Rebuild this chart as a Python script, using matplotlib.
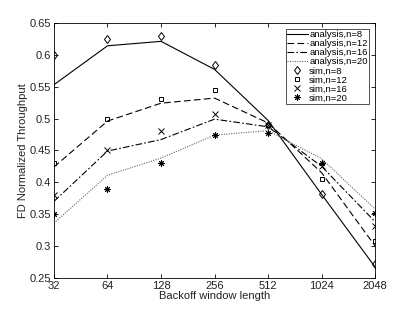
import matplotlib
matplotlib.use("Agg")
import matplotlib.pyplot as plt
from matplotlib.ticker import FixedLocator, FixedFormatter, NullLocator

plt.rcParams['font.family'] = ['Liberation Sans', 'DejaVu Sans']

window = [32, 64, 128, 256, 512, 1024, 2048]
tick_labels = ['32', '64', '128', '256', '512', '1024', '2048']

ana_n8 = [0.553, 0.614, 0.621, 0.577, 0.497, 0.381, 0.267]
ana_n12 = [0.424, 0.496, 0.524, 0.532, 0.493, 0.415, 0.300]
ana_n16 = [0.370, 0.449, 0.467, 0.499, 0.487, 0.425, 0.338]
ana_n20 = [0.336, 0.411, 0.438, 0.474, 0.481, 0.437, 0.358]

sim_n8 = [0.600, 0.624, 0.630, 0.584, 0.490, 0.381, 0.272]
sim_n12 = [0.430, 0.500, 0.530, 0.545, 0.490, 0.405, 0.308]
sim_n16 = [0.380, 0.450, 0.480, 0.507, 0.490, 0.425, 0.331]
sim_n20 = [0.350, 0.390, 0.430, 0.474, 0.477, 0.430, 0.352]

fig = plt.figure(figsize=(4.15, 3.13), dpi=100)
ax = fig.add_axes([0.130, 0.112, 0.774, 0.815])

lw = 0.8
ax.plot(window, ana_n8, '-', color='black', lw=lw, label='analysis,n=8')
ax.plot(window, ana_n12, '--', color='black', lw=lw, dashes=(6, 3), label='analysis,n=12')
ax.plot(window, ana_n16, '-.', color='black', lw=lw, dashes=(6, 2, 1.5, 2), label='analysis,n=16')
ax.plot(window, ana_n20, ':', color='#666666', lw=lw, dashes=(1, 1.2), label='analysis,n=20')

ms = 4
ax.plot(window, sim_n8, linestyle='none', marker='d', mfc='none', mec='black', ms=ms + 0.5, mew=0.7, label='sim,n=8')
ax.plot(window, sim_n12, linestyle='none', marker='s', mfc='none', mec='black', ms=ms - 0.8, mew=0.7, label='sim,n=12')
ax.plot(window, sim_n16, linestyle='none', marker='x', color='black', ms=ms - 0.3, mew=0.7, label='sim,n=16')
ax.plot(window, sim_n20, linestyle='none', marker=(8, 2, 0), color='black', ms=ms + 0.5, mew=0.7, label='sim,n=20')

ax.set_xscale('log', base=2)
ax.set_xlim(32, 2048)
ax.xaxis.set_major_locator(FixedLocator(window))
ax.xaxis.set_major_formatter(FixedFormatter(tick_labels))
ax.xaxis.set_minor_locator(NullLocator())
ax.set_ylim(0.25, 0.65)
ax.set_yticks([0.25, 0.3, 0.35, 0.4, 0.45, 0.5, 0.55, 0.6, 0.65])
ax.set_yticklabels(['0.25', '0.3', '0.35', '0.4', '0.45', '0.5', '0.55', '0.6', '0.65'])

ax.tick_params(direction='in', top=True, right=True, labelsize=8, length=3, width=0.6, pad=2, colors='black', labelcolor='#222222')
for s in ax.spines.values():
    s.set_linewidth(0.6)

ax.set_xlabel('Backoff window length', fontsize=8, labelpad=0, color='#222222')
ax.set_ylabel('FD Normalized Throughput', fontsize=8, labelpad=1, color='#222222')

leg = ax.legend(loc='upper right', bbox_to_anchor=(0.981, 0.976), fontsize=6.8, frameon=True, fancybox=False,
                edgecolor='black', borderpad=0.15, labelspacing=0.0, handlelength=2.2, handletextpad=0.15,
                borderaxespad=0.0)
leg.get_frame().set_linewidth(0.6)

fig.savefig('out.png', dpi=100)
